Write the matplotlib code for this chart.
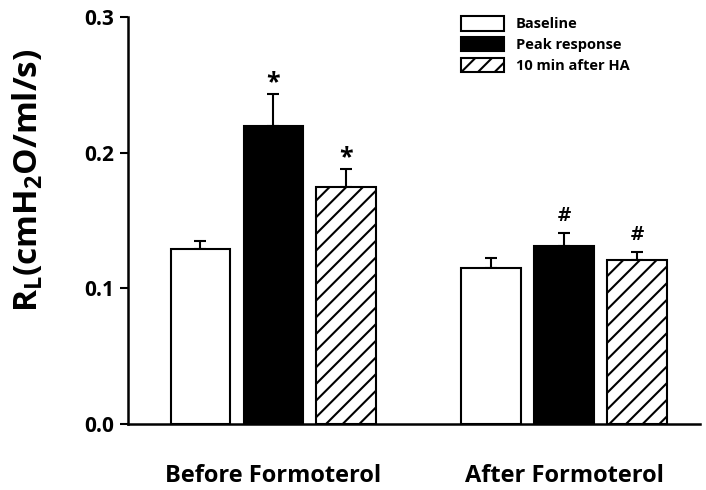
import numpy as np
import matplotlib
matplotlib.use("Agg")
import matplotlib.pyplot as plt

plt.rcParams['font.family'] = 'Open Sans'
plt.rcParams['font.weight'] = 'bold'
plt.rcParams['mathtext.fontset'] = 'custom'
plt.rcParams['mathtext.rm'] = 'Open Sans:bold'
plt.rcParams['mathtext.it'] = 'Open Sans:bold'
plt.rcParams['mathtext.bf'] = 'Open Sans:bold'
plt.rcParams['hatch.linewidth'] = 1.5

groups = ['Before Formoterol', 'After Formoterol']
series = ['Baseline', 'Peak response', '10 min after HA']
baseline = [0.129, 0.115]
baseline_err = [0.006, 0.007]
peak = [0.220, 0.131]
peak_err = [0.023, 0.010]
after_ha = [0.175, 0.121]
after_ha_err = [0.013, 0.006]
marks_peak = ['*', '#']
marks_ha = ['*', '#']

fig = plt.figure(figsize=(7.06, 4.9), dpi=100)
ax = fig.add_axes([0.1813, 0.1347, 0.8102, 0.8306])

x = np.arange(len(groups))
w = 0.205
off = 0.251
styles = [dict(color='white', hatch=None), dict(color='black', hatch=None),
          dict(color='white', hatch='//')]
vals = [baseline, peak, after_ha]
errs = [baseline_err, peak_err, after_ha_err]
for i in range(3):
    xs = x + (i - 1) * off
    ax.bar(xs, vals[i], w, color=styles[i]['color'], edgecolor='black',
           linewidth=1.5, hatch=styles[i]['hatch'], label=series[i], zorder=2)
    ax.errorbar(xs, vals[i], yerr=[np.zeros(2), errs[i]], fmt='none',
                ecolor='black', elinewidth=1.5, capsize=4.5, capthick=1.5, zorder=1)


def mark(xp, top, m):
    if m == '*':
        ax.text(xp, top - 0.001, m, ha='center', va='bottom', fontsize=18)
    else:
        ax.text(xp, top + 0.0055, m, ha='center', va='bottom', fontsize=13,
                family='DejaVu Serif', fontweight='bold')


for j in range(2):
    mark(x[j], peak[j] + peak_err[j], marks_peak[j])
    mark(x[j] + off, after_ha[j] + after_ha_err[j], marks_ha[j])

ax.set_xlim(-0.5, 1.468)
ax.set_ylim(0, 0.3)
ax.set_yticks([0.0, 0.1, 0.2, 0.3])
ax.set_yticklabels(['0.0', '0.1', '0.2', '0.3'], fontsize=15)
ax.set_xticks(x)
ax.set_xticklabels(groups, fontsize=17)
ax.tick_params(axis='x', length=0, pad=29)
ax.tick_params(axis='y', direction='out', length=6, width=1.5, pad=4)
for s in ['top', 'right']:
    ax.spines[s].set_visible(False)
for s in ['left', 'bottom']:
    ax.spines[s].set_linewidth(1.8)

fig.text(0.04, 0.633, r'R$_\mathrm{L}$(cmH$_\mathrm{2}$O/ml/s)', rotation=90,
         ha='center', va='center', fontsize=24)

ax.legend(loc='upper left', bbox_to_anchor=(461 / 706, 1 - 16 / 490),
          bbox_transform=fig.transFigure, frameon=False, fontsize=10.5,
          handlelength=2.95, handleheight=1.16, labelspacing=0.38,
          handletextpad=0.8, borderpad=0, borderaxespad=0)

fig.savefig('out.png', dpi=100)
